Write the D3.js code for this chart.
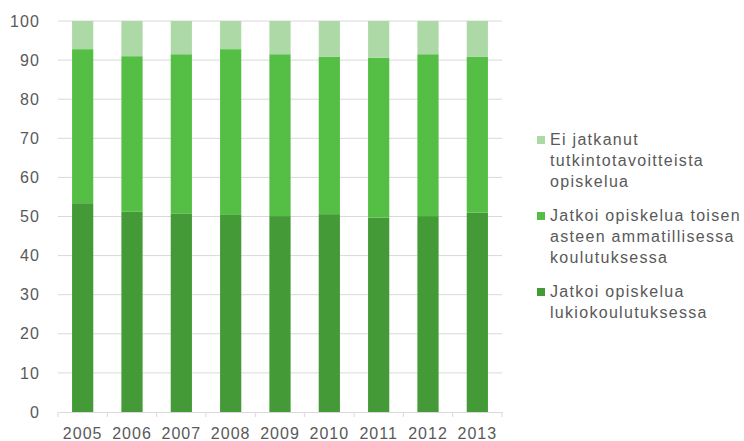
<!DOCTYPE html>
<html>
<head>
<meta charset="utf-8">
<script src="https://cdn.jsdelivr.net/npm/d3@7"></script>
<style>
  body { margin: 0; background: #fff; }
  text { font-family: "Liberation Sans", Arial, sans-serif; fill: #595959; }
</style>
</head>
<body>
<div id="chart-container"></div>
<script>
// Data (percent)
const years = ["2005", "2006", "2007", "2008", "2009", "2010", "2011", "2012", "2013"];
const lukio = [53.4, 51.2, 50.8, 50.4, 50.1, 50.6, 49.7, 50.1, 51.0];
const ammatillinen = [39.4, 39.8, 40.7, 42.4, 41.4, 40.3, 40.9, 41.4, 39.9];
const eiJatkanut = [7.2, 9.0, 8.5, 7.2, 8.5, 9.1, 9.4, 8.5, 9.1];
const yTicks = [0, 10, 20, 30, 40, 50, 60, 70, 80, 90, 100];

const seriesKeys = ["lukio", "ammatillinen", "ei"];
const seriesColors = { lukio: "#439a36", ammatillinen: "#55bf45", ei: "#acd9a6" };
const legendItems = [
  { key: "ei", lines: ["Ei jatkanut", "tutkintotavoitteista", "opiskelua"] },
  { key: "ammatillinen", lines: ["Jatkoi opiskelua toisen", "asteen ammatillisessa", "koulutuksessa"] },
  { key: "lukio", lines: ["Jatkoi opiskelua", "lukiokoulutuksessa"] }
];

const table = years.map((yr, i) => ({ year: yr, lukio: lukio[i], ammatillinen: ammatillinen[i], ei: eiJatkanut[i] }));

const W = 744, H = 441;
const margin = { top: 21, right: 242, bottom: 29, left: 58 };
const width = W - margin.left - margin.right;
const height = H - margin.top - margin.bottom;

const svg = d3.select("#chart-container")
  .append("svg")
    .attr("width", W)
    .attr("height", H);

const g = svg.append("g")
  .attr("transform", `translate(${margin.left}, ${margin.top})`);

const x = d3.scaleBand().domain(years).range([0, width]).paddingInner(0.57).paddingOuter(0.285);
const y = d3.scaleLinear().domain([0, 100]).range([height, 0]);

// gridlines
g.append("g")
  .selectAll("line")
  .data(yTicks.filter(d => d > 0))
  .join("line")
    .attr("x1", 0)
    .attr("x2", width)
    .attr("y1", d => y(d))
    .attr("y2", d => y(d))
    .attr("stroke", "#d9d9d9")
    .attr("stroke-width", 1);

// stacked bars
const stack = d3.stack().keys(seriesKeys);
const layers = stack(table);

g.append("g")
  .selectAll("g")
  .data(layers)
  .join("g")
    .attr("fill", d => seriesColors[d.key])
  .selectAll("rect")
  .data(d => d)
  .join("rect")
    .attr("x", d => x(d.data.year))
    .attr("width", x.bandwidth())
    .attr("y", d => y(d[1]))
    .attr("height", d => y(d[0]) - y(d[1]));

// y axis labels
const yAxis = g.append("g")
  .call(d3.axisLeft(y).tickValues(yTicks).tickSize(0).tickPadding(18));
yAxis.select(".domain").remove();
yAxis.selectAll("text")
  .style("font-size", "16px")
  .style("letter-spacing", "1.1px")
  .style("font-family", "'Liberation Sans', Arial, sans-serif")
  .attr("fill", "#595959");

// x axis
const xAxis = g.append("g")
  .attr("transform", `translate(0, ${height})`)
  .call(d3.axisBottom(x).tickSize(0).tickPadding(15.5));
xAxis.select(".domain").attr("stroke", "#d9d9d9");
xAxis.selectAll("text")
  .style("font-size", "16px")
  .style("letter-spacing", "1px")
  .style("font-family", "'Liberation Sans', Arial, sans-serif")
  .attr("fill", "#595959");

// tick marks between categories
g.append("g")
  .selectAll("line")
  .data(d3.range(years.length + 1))
  .join("line")
    .attr("x1", i => i * (width / years.length))
    .attr("x2", i => i * (width / years.length))
    .attr("y1", height)
    .attr("y2", height + 5)
    .attr("stroke", "#d9d9d9");

// legend
const legend = svg.append("g").attr("transform", "translate(537, 0)");
const legendTop = [145, 221, 297];
legendItems.forEach((item, i) => {
  const lg = legend.append("g").attr("transform", `translate(0, ${legendTop[i]})`);
  lg.append("rect")
    .attr("x", 0)
    .attr("y", -9)
    .attr("width", 8)
    .attr("height", 8)
    .attr("fill", seriesColors[item.key]);
  item.lines.forEach((ln, j) => {
    lg.append("text")
      .attr("x", 13)
      .attr("y", j * 20.8)
      .style("font-size", "16px")
      .style("letter-spacing", "1.3px")
      .text(ln);
  });
});
</script>
</body>
</html>
